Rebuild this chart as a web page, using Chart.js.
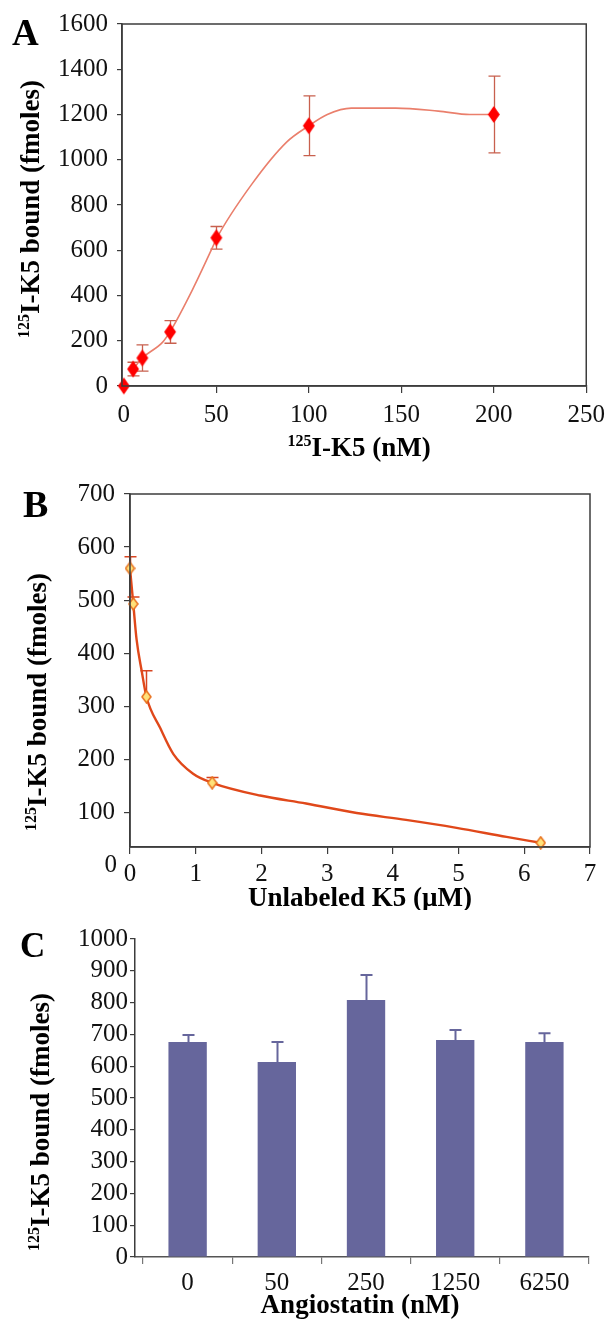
<!DOCTYPE html>
<html lang="en">
<head>
<meta charset="UTF-8" />
<title>125I-K5 binding</title>
<script src="https://cdn.jsdelivr.net/npm/chart.js"></script>
<style>
  body { margin: 0; background: #fff; }
  canvas { position: absolute; left: 0; }
</style>
</head>
<body>
<canvas id="chartA" width="612" height="470" style="top:0px"></canvas>
<canvas id="chartB" width="612" height="440" style="top:470px"></canvas>
<canvas id="chartC" width="612" height="409" style="top:910px"></canvas>
<script>
// --- panel A: saturation binding
const concA = [0, 5, 10, 25, 50, 100, 200];
const boundA = [0, 75, 124, 239, 655, 1150, 1200];
const errA = [0, 30, 58, 50, 50, 132, 170];
// smoothed trend line as drawn in the figure
const fitXA = [5, 10, 21, 25, 37, 48, 50, 69, 88, 100, 110, 123, 147, 170, 187, 200];
const fitYA = [75, 124, 194, 240, 424, 614, 650, 890, 1078, 1150, 1200, 1228, 1228, 1215, 1200, 1200];
const ticksXA = [0, 50, 100, 150, 200, 250];

// --- panel B: competition with unlabeled K5
const concB = [0, 0.05, 0.25, 1.25, 6.25];
const boundB = [560, 493, 318, 156, 43];
const errB = [22, 13, 49, 10, 0];
const fitXB = [0, 0.05, 0.1, 0.18, 0.25, 0.46, 0.66, 0.96, 1.25, 1.98, 2.68, 3.45, 4.2, 4.97, 5.73, 6.25];
const fitYB = [560, 493, 426, 365, 318, 259, 210, 173, 156, 132, 117, 99, 86, 71, 54, 43];
const ticksYB = [100, 200, 300, 400, 500, 600, 700];

// --- panel C: angiostatin
const doseC = ['0', '50', '250', '1250', '6250'];
const boundC = [676, 613, 808, 682, 676];
const errC = [22, 63, 79, 32, 28];

const SERIF = "'Liberation Serif', 'Times New Roman', serif";
const AXIS = '#3c3c3c';
const TXT = '#111';

Chart.defaults.font.family = SERIF;
Chart.defaults.font.size = 25;
Chart.defaults.color = TXT;

const plain = v => String(v);

// tall diamond marker drawn once and used as pointStyle
function diamond(w, h, fill, stroke) {
  const c = document.createElement('canvas');
  c.width = w + 2; c.height = h + 2;
  const g = c.getContext('2d');
  g.beginPath();
  g.moveTo(c.width / 2, 1);
  g.lineTo(c.width - 1, c.height / 2);
  g.lineTo(c.width / 2, c.height - 1);
  g.lineTo(1, c.height / 2);
  g.closePath();
  g.fillStyle = fill;
  g.fill();
  if (stroke) { g.strokeStyle = stroke; g.lineWidth = 1.5; g.stroke(); }
  return c;
}

const sup125 = rest => [{ t: '125', sup: true }, { t: rest }];

const errorBars = {
  id: 'errorBars',
  beforeDatasetsDraw(chart, args, o) {
    if (!o.errors) return;
    const ys = chart.scales.y, ctx = chart.ctx;
    const meta = chart.getDatasetMeta(0);
    const vals = chart.data.datasets[0].data;
    ctx.save();
    ctx.strokeStyle = o.color;
    ctx.lineWidth = o.width;
    meta.data.forEach((el, i) => {
      const e = o.errors[i];
      if (!e) return;
      const v = typeof vals[i] === 'object' ? vals[i].y : vals[i];
      const x = Math.round(el.x) + 0.5;
      const hi = ys.getPixelForValue(v + e);
      const lo = ys.getPixelForValue(o.both ? v - e : v);
      ctx.beginPath();
      ctx.moveTo(x, lo); ctx.lineTo(x, hi);
      ctx.moveTo(x - o.cap / 2, hi); ctx.lineTo(x + o.cap / 2, hi);
      if (o.both) { ctx.moveTo(x - o.cap / 2, lo); ctx.lineTo(x + o.cap / 2, lo); }
      ctx.stroke();
    });
    ctx.restore();
  }
};

const frame = {
  id: 'frame',
  afterDraw(chart, args, o) {
    const { ctx, chartArea: a } = chart;
    ctx.save();
    ctx.strokeStyle = AXIS;
    ctx.lineWidth = 1.5;
    if (o.box) ctx.strokeRect(a.left, a.top, a.right - a.left, a.bottom - a.top);
    if (o.zeroLabel) {
      ctx.fillStyle = TXT;
      ctx.font = '25px ' + SERIF;
      ctx.textAlign = 'right';
      ctx.textBaseline = 'middle';
      ctx.fillText('0', a.left - 13, chart.scales.y.getPixelForValue(0));
    }
    ctx.restore();
  }
};

const texts = {
  id: 'texts',
  afterDraw(chart, args, o) {
    const ctx = chart.ctx;
    (o.items || []).forEach(it => {
      ctx.save();
      ctx.translate(it.x, it.y);
      if (it.rotate) ctx.rotate(-Math.PI / 2);
      ctx.fillStyle = '#000';
      ctx.textBaseline = 'alphabetic';
      ctx.textAlign = 'left';
      const big = `bold ${it.size}px ${SERIF}`;
      const small = `bold ${Math.round(it.size * 0.58)}px ${SERIF}`;
      let w = 0;
      it.parts.forEach(p => { ctx.font = p.sup ? small : big; w += ctx.measureText(p.t).width; });
      let cx = it.align === 'left' ? 0 : -w / 2;
      it.parts.forEach(p => {
        ctx.font = p.sup ? small : big;
        ctx.fillText(p.t, cx, p.sup ? -it.size * 0.36 : 0);
        cx += ctx.measureText(p.t).width;
      });
      ctx.restore();
    });
  }
};

Chart.register(errorBars, frame, texts);

function axisX(extra) {
  return Object.assign({
    grid: { drawOnChartArea: false, tickLength: 7, color: AXIS, lineWidth: 1.2 },
    border: { color: AXIS, width: 1.5 },
    ticks: { padding: 6, maxRotation: 0, autoSkip: false, callback: plain }
  }, extra);
}
function axisY(extra) {
  return Object.assign({
    grid: { drawOnChartArea: false, tickLength: 5, color: AXIS, lineWidth: 1.2 },
    border: { color: AXIS, width: 1.5 },
    ticks: { padding: 9, autoSkip: false, callback: plain }
  }, extra);
}

const common = {
  responsive: false,
  devicePixelRatio: 1,
  animation: false,
  events: []
};

// A
new Chart(document.getElementById('chartA'), {
  type: 'scatter',
  data: {
    datasets: [
      {
        data: concA.map((x, i) => ({ x, y: boundA[i] })),
        pointStyle: diamond(12, 17, '#ff0000'),
        pointRadius: 6,
        clip: false
      },
      {
        data: fitXA.map((x, i) => ({ x, y: fitYA[i] })),
        showLine: true,
        pointRadius: 0,
        borderColor: '#ea7f6c',
        borderWidth: 1.6,
        cubicInterpolationMode: 'monotone'
      }
    ]
  },
  options: Object.assign({}, common, {
    layout: { padding: { top: 24, right: 23, left: 0, bottom: 0 } },
    scales: {
      x: axisX({
        type: 'linear', min: -1, max: 250,
        ticks: { padding: 7, maxRotation: 0, autoSkip: false, callback: plain },
        afterBuildTicks: s => { s.ticks = ticksXA.map(v => ({ value: v })); },
        afterFit: s => { s.height = 84; }
      }),
      y: axisY({
        min: 0, max: 1600,
        ticks: { stepSize: 200, padding: 9, autoSkip: false, callback: plain },
        afterFit: s => { s.width = 122; }
      })
    },
    plugins: {
      legend: { display: false },
      tooltip: { enabled: false },
      errorBars: { errors: errA, color: '#c8604e', width: 1.3, cap: 12, both: true },
      frame: { box: true },
      texts: {
        items: [
          { parts: [{ t: 'A' }], x: 12, y: 45, size: 37, align: 'left' },
          { parts: sup125('I-K5 bound (fmoles)'), x: 39, y: 209, size: 27, rotate: true },
          { parts: sup125('I-K5 (nM)'), x: 359, y: 456, size: 27 }
        ]
      }
    }
  })
});

// B
new Chart(document.getElementById('chartB'), {
  type: 'scatter',
  data: {
    datasets: [
      {
        data: concB.map((x, i) => ({ x, y: boundB[i] })),
        pointStyle: diamond(9, 12, '#ffe27a', '#e8701c'),
        pointRadius: 5,
        clip: false
      },
      {
        data: fitXB.map((x, i) => ({ x, y: fitYB[i] })),
        showLine: true,
        pointRadius: 0,
        borderColor: '#e0481a',
        borderWidth: 2.4,
        cubicInterpolationMode: 'monotone'
      }
    ]
  },
  options: Object.assign({}, common, {
    layout: { padding: { top: 20, right: 22, left: 0, bottom: 0 } },
    scales: {
      x: axisX({
        type: 'linear', min: 0, max: 7,
        ticks: { stepSize: 1, padding: 5, maxRotation: 0, autoSkip: false, callback: plain },
        afterFit: s => { s.height = 63; }
      }),
      y: axisY({
        min: 35, max: 700,
        grid: { drawOnChartArea: false, tickLength: 6, color: AXIS, lineWidth: 1.2 },
        afterBuildTicks: s => { s.ticks = ticksYB.map(v => ({ value: v })); },
        afterFit: s => { s.width = 130; }
      })
    },
    plugins: {
      legend: { display: false },
      tooltip: { enabled: false },
      errorBars: { errors: errB, color: '#d84420', width: 1.5, cap: 12, both: false },
      frame: { box: true, zeroLabel: true },
      texts: {
        items: [
          { parts: [{ t: 'B' }], x: 23, y: 47, size: 38, align: 'left' },
          { parts: sup125('I-K5 bound (fmoles)'), x: 46, y: 232, size: 27, rotate: true },
          { parts: [{ t: 'Unlabeled K5 (µM)' }], x: 360, y: 436, size: 27 }
        ]
      }
    }
  })
});

// C: bars on a linear index axis so the value axis can sit a bit left of the first slot
new Chart(document.getElementById('chartC'), {
  type: 'bar',
  data: {
    datasets: [{
      data: boundC.map((y, i) => ({ x: i, y })),
      backgroundColor: '#66669c',
      borderWidth: 0,
      categoryPercentage: 1,
      barPercentage: 0.43
    }]
  },
  options: Object.assign({}, common, {
    layout: { padding: { top: 29, right: 23, left: 0, bottom: 0 } },
    scales: {
      x: {
        type: 'linear', min: -0.59, max: doseC.length - 0.5, offset: false,
        afterBuildTicks: s => { s.ticks = doseC.map((d, i) => ({ value: i })); },
        afterFit: s => { s.height = 62; },
        grid: { drawOnChartArea: false, offset: true, tickLength: 7, color: '#777', lineWidth: 1.2 },
        border: { color: '#555', width: 1.5 },
        ticks: { padding: 4, maxRotation: 0, autoSkip: false, callback: v => doseC[v] }
      },
      y: {
        min: 0, max: 1000,
        grid: { drawOnChartArea: false, tickLength: 5, color: AXIS, lineWidth: 1.2 },
        border: { color: AXIS, width: 1.5 },
        ticks: { stepSize: 100, padding: 2, autoSkip: false, callback: plain },
        afterFit: s => { s.width = 135; }
      }
    },
    plugins: {
      legend: { display: false },
      tooltip: { enabled: false },
      errorBars: { errors: errC, color: '#66669c', width: 2, cap: 12, both: false },
      texts: {
        items: [
          { parts: [{ t: 'C' }], x: 20, y: 47, size: 35, align: 'left' },
          { parts: sup125('I-K5 bound (fmoles)'), x: 49, y: 212, size: 27, rotate: true },
          { parts: [{ t: 'Angiostatin (nM)' }], x: 360, y: 403, size: 27 }
        ]
      }
    }
  })
});
</script>
</body>
</html>
